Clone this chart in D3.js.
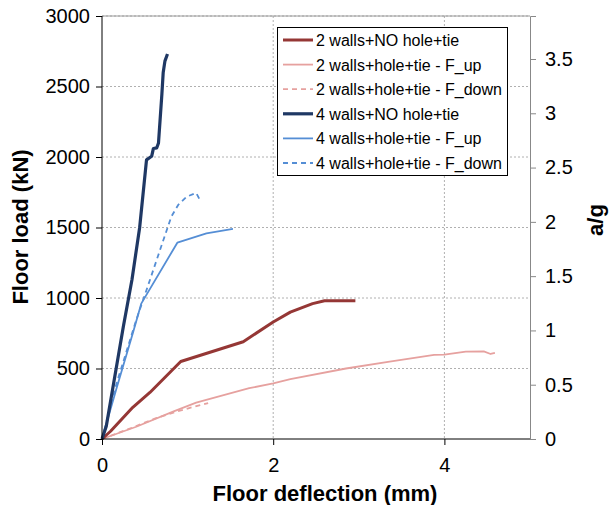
<!DOCTYPE html>
<html><head><meta charset="utf-8">
<script src="https://cdn.jsdelivr.net/npm/d3@7"></script>
<style>body{margin:0;background:#fff}text{font-family:"Liberation Sans",Arial,sans-serif}</style>
</head><body><svg id="c" width="613" height="505"></svg>
<script>
const xTicks = [0, 2, 4];
const yTicks = [0, 500, 1000, 1500, 2000, 2500, 3000];
const y2Ticks = [0, 0.5, 1, 1.5, 2, 2.5, 3, 3.5];
const seriesNames = ["2 walls+NO hole+tie", "2 walls+hole+tie - F_up", "2 walls+hole+tie - F_down",
  "4 walls+NO hole+tie", "4 walls+hole+tie - F_up", "4 walls+hole+tie - F_down"];
const s2NoHole = [[0,0],[0.1,55],[0.36,225],[0.56,330],[0.92,550],[1.65,690],[2.0,830],[2.2,900],[2.46,960],[2.6,980],[2.96,980]];
const s2Up = [[0,0],[0.4,87],[0.83,194],[1.1,258],[1.72,360],[2.0,395],[2.2,425],[2.85,500],[3.36,548],[3.88,596],[4.0,598],[4.25,619],[4.46,621],[4.54,603],[4.59,610]];
const s2Down = [[0,0],[0.3,68],[0.64,150],[0.9,200],[1.24,255]];
const s4NoHole = [[0,0],[0.05,90],[0.25,800],[0.35,1130],[0.44,1500],[0.52,1980],[0.58,2005],[0.6,2060],[0.64,2065],[0.66,2100],[0.7,2450],[0.715,2600],[0.735,2680],[0.765,2730]];
const s4Up = [[0,0],[0.17,360],[0.36,750],[0.46,962],[0.88,1392],[1.22,1459],[1.53,1490]];
const s4Down = [[0,0],[0.17,394],[0.4,844],[0.56,1128],[0.75,1470],[0.81,1577],[0.89,1660],[0.99,1719],[1.1,1745],[1.14,1700]];

const colors = ["#953735", "#e6a19f", "#e6a19f", "#1f3864", "#558ed5", "#558ed5"];
const widths = [3, 1.8, 1.8, 3.2, 1.8, 1.8];
const dashes = [null, null, "5,4", null, null, "5,4"];
const data = [s2NoHole, s2Up, s2Down, s4NoHole, s4Up, s4Down];

const L = 102, R = 530, T = 16, B = 439;
const x = d3.scaleLinear().domain([0, 5]).range([L, R]);
const y = d3.scaleLinear().domain([0, 3000]).range([B, T]);
const y2 = d3.scaleLinear().domain([0, 3000/770]).range([B, T]);
const svg = d3.select("#c");

// gridlines
svg.append("g").selectAll("line").data(yTicks.filter(d => d > 0)).join("line")
  .attr("x1", L).attr("x2", R).attr("y1", d => y(d)).attr("y2", d => y(d))
  .attr("stroke", "#b0b0b0").attr("stroke-dasharray", "2,2").attr("stroke-width", 1);
svg.append("g").selectAll("line").data(xTicks.filter(d => d > 0)).join("line")
  .attr("y1", T).attr("y2", B).attr("x1", d => x(d)).attr("x2", d => x(d))
  .attr("stroke", "#b0b0b0").attr("stroke-dasharray", "2,2").attr("stroke-width", 1);
svg.append("line").attr("x1", L).attr("x2", R).attr("y1", T).attr("y2", T).attr("stroke", "#9a9a9a");

// right axis
const gR = svg.append("g").attr("transform", `translate(${R},0)`)
  .call(d3.axisRight(y2).tickValues(y2Ticks).tickSize(6).tickPadding(9).tickFormat(d3.format("")));
gR.select(".domain").attr("stroke", "#888");
gR.selectAll(".tick line").attr("stroke", "#888");
gR.selectAll("text").attr("font-size", 20).attr("fill", "#000").attr("font-family", "Liberation Sans, Arial");

// lines
const line = d3.line().x(d => x(d[0])).y(d => y(d[1]));
[1, 2, 0, 4, 5, 3].forEach(i => {
  svg.append("path").datum(data[i]).attr("d", line).attr("fill", "none")
    .attr("stroke", colors[i]).attr("stroke-width", widths[i])
    .attr("stroke-dasharray", dashes[i]).attr("stroke-linejoin", "round");
});

// left and bottom axes
const gL = svg.append("g").attr("transform", `translate(${L},0)`)
  .call(d3.axisLeft(y).tickValues(yTicks).tickSize(6).tickPadding(6).tickFormat(d3.format("")));
gL.selectAll("text").attr("font-size", 20).attr("fill", "#000").attr("font-family", "Liberation Sans, Arial");
gL.selectAll("line,path").attr("stroke", "#000");
const gB = svg.append("g").attr("transform", `translate(0,${B})`)
  .call(d3.axisBottom(x).tickValues(xTicks).tickSize(6).tickPadding(13).tickFormat(d3.format("")));
gB.selectAll("text").attr("font-size", 20).attr("fill", "#000").attr("font-family", "Liberation Sans, Arial");
gB.selectAll("line,path").attr("stroke", "#000");
gB.select(".domain").attr("d", `M${L},0H${R}`);
gL.select(".domain").attr("d", `M0,${T}V${B}`);

// axis titles
svg.append("text").attr("transform", `translate(28,227) rotate(-90)`).attr("text-anchor", "middle")
  .attr("font-size", 22).attr("font-weight", "bold").text("Floor load (kN)");
svg.append("text").attr("x", 325).attr("y", 501).attr("text-anchor", "middle")
  .attr("font-size", 22).attr("font-weight", "bold").text("Floor deflection (mm)");
svg.append("text").attr("transform", `translate(603,220) rotate(-90)`).attr("text-anchor", "middle")
  .attr("font-size", 22).attr("font-weight", "bold").text("a/g");

// legend
const lg = svg.append("g");
lg.append("rect").attr("x", 277.5).attr("y", 27.5).attr("width", 230).attr("height", 148)
  .attr("fill", "#fff").attr("stroke", "#000").attr("stroke-width", 1);
seriesNames.forEach((n, i) => {
  const yy = 40 + i * 24.6;
  lg.append("line").attr("x1", 283).attr("x2", 313).attr("y1", yy).attr("y2", yy)
    .attr("stroke", colors[i]).attr("stroke-width", widths[i]).attr("stroke-dasharray", dashes[i]);
  lg.append("text").attr("x", 316).attr("y", yy + 6).attr("font-size", 16).text(n);
});
</script></body></html>
